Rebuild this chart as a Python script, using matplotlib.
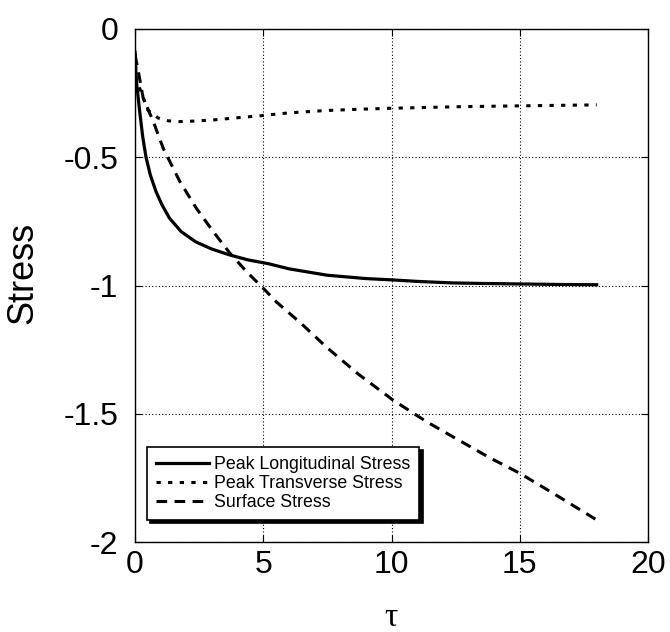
import matplotlib
matplotlib.use("Agg")
import matplotlib.pyplot as plt

tau_long = [0, 0.05, 0.17, 0.3, 0.43, 0.6, 0.82, 1.05, 1.34, 1.8, 2.37, 3.0, 3.66,
            4.4, 5.2, 6.0, 7.5, 9.0, 10.0, 11.0, 12.4, 13.5, 15.0, 16.5, 18.0]
stress_long = [-0.09, -0.2, -0.31, -0.42, -0.50, -0.57, -0.634, -0.685, -0.737, -0.79,
               -0.83, -0.858, -0.88, -0.90, -0.915, -0.935, -0.960, -0.973, -0.978,
               -0.984, -0.99, -0.992, -0.994, -0.996, -0.997]

tau_trans = [0, 0.05, 0.24, 0.5, 0.9, 1.3, 1.7, 2.3, 3.0, 4.0, 4.9, 6.0, 7.4, 8.7,
             10.0, 11.3, 12.6, 14.0, 15.5, 17.0, 18.0]
stress_trans = [-0.094, -0.2, -0.245, -0.316, -0.347, -0.358, -0.361, -0.359, -0.355,
                -0.346, -0.338, -0.327, -0.318, -0.313, -0.309, -0.306, -0.303, -0.301,
                -0.299, -0.297, -0.296]

tau_surf = [0, 0.13, 0.32, 0.71, 1.1, 1.75, 2.4, 3.05, 3.7, 4.35, 5.13, 5.5, 6.5, 7.45,
            8.7, 10.05, 11.35, 12.5, 13.8, 15.0, 16.5, 18.0]
stress_surf = [-0.1, -0.166, -0.27, -0.36, -0.465, -0.595, -0.70, -0.79, -0.874, -0.946,
               -1.024, -1.063, -1.15, -1.239, -1.345, -1.446, -1.53, -1.596, -1.67,
               -1.732, -1.822, -1.914]

labels = ['Peak Longitudinal Stress', 'Peak Transverse Stress', 'Surface Stress']

plt.rcParams['font.family'] = ['Liberation Sans', 'DejaVu Sans']

fig = plt.figure(figsize=(6.7, 6.32), dpi=100)
ax = fig.add_axes([135 / 670, 1 - 542 / 632, 513 / 670, 513 / 632])

ax.plot(tau_long, stress_long, color='black', lw=2.3, label=labels[0])
ax.plot(tau_trans, stress_trans, color='black', lw=2.2, linestyle=(0, (1.4, 2.4)),
        label=labels[1])
ax.plot(tau_surf, stress_surf, color='black', lw=2.2, linestyle=(0, (3.5, 2.4)),
        label=labels[2])

ax.set_xlim(0, 20)
ax.set_ylim(-2, 0)
ax.set_xticks([0, 5, 10, 15, 20])
ax.set_yticks([-2, -1.5, -1, -0.5, 0])
ax.set_yticklabels(['-2', '-1.5', '-1', '-0.5', '0'])
ax.grid(True, color='black', linestyle=(0, (1, 2)), linewidth=0.8)
ax.tick_params(direction='in', length=5, labelsize=23, top=True, right=True)
ax.tick_params(axis='x', pad=6)
ax.tick_params(axis='y', pad=12)
for sp in ax.spines.values():
    sp.set_linewidth(1.0)

ax.set_ylabel('Stress', fontsize=26)
ax.yaxis.set_label_coords(-0.185, 0.524)
ax.set_xlabel('τ', fontsize=24, family=['Liberation Serif', 'DejaVu Serif'], labelpad=16)

leg = ax.legend(loc='lower left', bbox_to_anchor=(0.023, 0.043), borderaxespad=0,
                fontsize=12.8, fancybox=False, framealpha=1, edgecolor='black',
                handlelength=3.0, handletextpad=0.3, labelspacing=0.12,
                borderpad=0.5,
                shadow={'ox': 2.5, 'oy': -2.5, 'facecolor': 'black',
                        'edgecolor': 'black', 'alpha': 1})
leg.get_frame().set_linewidth(1.2)

fig.savefig('out.png', dpi=100)
